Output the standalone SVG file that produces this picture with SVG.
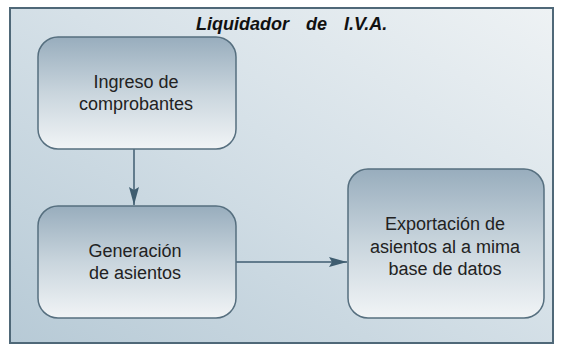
<svg xmlns="http://www.w3.org/2000/svg" width="562" height="347" viewBox="0 0 562 347">
  <defs>
    <linearGradient id="bg" x1="0" y1="1" x2="1" y2="0">
      <stop offset="0" stop-color="#b7cad6"/>
      <stop offset="0.55" stop-color="#d6e1e8"/>
      <stop offset="1" stop-color="#eef2f4"/>
    </linearGradient>
    <linearGradient id="box" x1="0" y1="0" x2="0" y2="1">
      <stop offset="0" stop-color="#98adbd"/>
      <stop offset="0.5" stop-color="#c9d5dd"/>
      <stop offset="1" stop-color="#f1f4f6"/>
    </linearGradient>
    <marker id="arr" viewBox="0 0 18 10" refX="18" refY="5" markerWidth="18" markerHeight="10" markerUnits="userSpaceOnUse" orient="auto">
      <path d="M0,0 L18,5 L0,10 L3,5 Z" fill="#3f5d70"/>
    </marker>
  </defs>
  <style>
    .frame { fill: url(#bg); stroke: #4f6878; stroke-width: 2; }
    .node rect { fill: url(#box); stroke: #566f7f; stroke-width: 1.5; }
    .node text { font-family: "Liberation Sans", Arial, sans-serif; font-size: 18px; fill: #222; text-anchor: middle; }
    .title { font-family: "Liberation Sans", Arial, sans-serif; font-size: 18px; font-weight: bold; font-style: italic; fill: #111; }
    .conn { stroke: #3f5d70; stroke-width: 1.5; fill: none; marker-end: url(#arr); }
  </style>
  <rect class="frame" x="10" y="8" width="543" height="335"/>
  <text class="title" y="30"><tspan x="196">Liquidador</tspan><tspan x="306">de</tspan><tspan x="344">I.V.A.</tspan></text>
  <g id="connectors">
    <path class="conn" d="M134,149 L134,205"/>
    <path class="conn" d="M236,262 L347,262"/>
  </g>
  <g id="node-ingreso" class="node">
    <rect x="38" y="37" width="198" height="112" rx="20" ry="20"/>
    <text x="136" y="88">Ingreso de</text>
    <text x="136" y="110">comprobantes</text>
  </g>
  <g id="node-generacion" class="node">
    <rect x="38" y="206" width="198" height="112" rx="20" ry="20"/>
    <text x="135" y="257">Generación</text>
    <text x="135" y="279">de asientos</text>
  </g>
  <g id="node-exportacion" class="node">
    <rect x="348" y="169" width="196" height="149" rx="20" ry="20"/>
    <text x="445" y="230">Exportación de</text>
    <text x="445" y="253">asientos al a mima</text>
    <text x="445" y="275">base de datos</text>
  </g>
</svg>
